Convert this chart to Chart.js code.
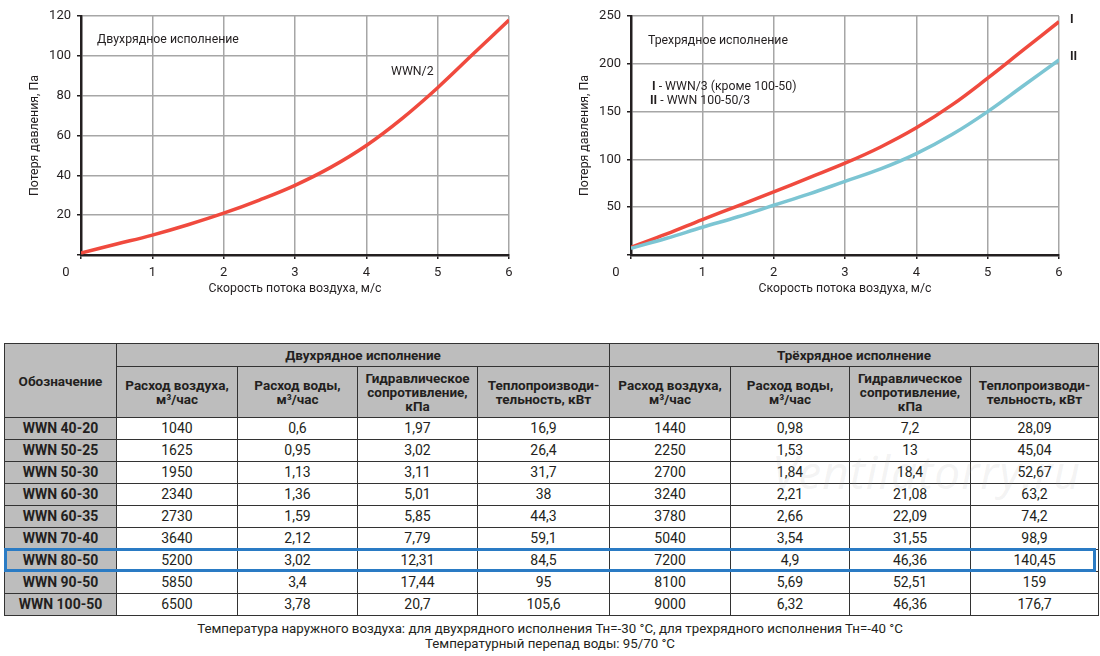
<!DOCTYPE html>
<html lang="ru">
<head>
<meta charset="utf-8">
<title>WWN — потеря давления</title>
<script src="https://cdn.jsdelivr.net/npm/chart.js@4.4.1/dist/chart.umd.min.js"></script>
<style>
    html, body { margin: 0; padding: 0; background: #fff; }
    body { width: 1100px; height: 656px; position: relative; overflow: hidden; font-family: Roboto, "Noto Sans", sans-serif; color: #231f20; }
    .chart-box { position: absolute; top: 0; width: 550px; height: 300px; }
    #specs { position: absolute; left: 4px; top: 343px; width: 1094px; border-collapse: collapse; table-layout: fixed; font-size: 14px; }
    #specs th, #specs td { border: 1.5px solid #333; text-align: center; padding: 0; }
    #specs th { background: #bdbdbd; font-weight: bold; font-size: 13.5px; line-height: 14px; }
    #specs td { height: 21px; line-height: 21px; }
    #specs td.model { background: #bdbdbd; font-weight: bold; }
    #specs tr.h1 th { height: 22px; }
    #specs tr.h2 th { height: 50px; }
    .highlight { position: absolute; left: 4px; top: 548px; width: 1092px; height: 24px; box-sizing: border-box; border: 3px solid #2a7bc4; }
    .watermark { position: absolute; left: 772px; top: 440px; font: italic 46px "Open Sans", sans-serif; color: rgba(170,170,170,0.15); letter-spacing: 1px; pointer-events: none; }
    .note { position: absolute; left: 0; width: 1100px; text-align: center; font-size: 13.3px; }
</style>
</head>
<body>

<div class="chart-box" style="left:0"><canvas id="chart2row"></canvas></div>
<div class="chart-box" style="left:550px"><canvas id="chart3row"></canvas></div>

<table id="specs"></table>
<div class="highlight"></div>
<div class="watermark">Ventilatorry.ru</div>
<div class="note" style="top:621px">Температура наружного воздуха: для двухрядного исполнения Тн=-30 °C, для трехрядного исполнения Тн=-40 °C</div>
<div class="note" style="top:636px">Температурный перепад воды: 95/70 °C</div>

<script>
// ---- chart data ----
const speed      = [0, 0.5, 1, 1.5, 2, 2.5, 3, 3.5, 4, 4.5, 5, 5.5, 6];
const lossWWN2   = [1, 5.5, 10, 15.2, 21, 27.6, 35, 44, 55, 68.5, 84, 101, 118];
const lossWWN3   = [8, 22, 37, 51.5, 66, 81, 96, 113, 133, 157, 185, 214.5, 244];
const lossWWN100 = [7, 17.5, 29, 40, 52, 64, 77, 90, 106, 126, 150, 177, 204];

// ---- table data ----
const models = ['WWN 40-20', 'WWN 50-25', 'WWN 50-30', 'WWN 60-30', 'WWN 60-35', 'WWN 70-40', 'WWN 80-50', 'WWN 90-50', 'WWN 100-50'];
const air2   = ['1040', '1625', '1950', '2340', '2730', '3640', '5200', '5850', '6500'];
const water2 = ['0,6', '0,95', '1,13', '1,36', '1,59', '2,12', '3,02', '3,4', '3,78'];
const hydr2  = ['1,97', '3,02', '3,11', '5,01', '5,85', '7,79', '12,31', '17,44', '20,7'];
const heat2  = ['16,9', '26,4', '31,7', '38', '44,3', '59,1', '84,5', '95', '105,6'];
const air3   = ['1440', '2250', '2700', '3240', '3780', '5040', '7200', '8100', '9000'];
const water3 = ['0,98', '1,53', '1,84', '2,21', '2,66', '3,54', '4,9', '5,69', '6,32'];
const hydr3  = ['7,2', '13', '18,4', '21,08', '22,09', '31,55', '46,36', '52,51', '46,36'];
const heat3  = ['28,09', '45,04', '52,67', '63,2', '74,2', '98,9', '140,45', '159', '176,7'];

const INK  = '#231f20';
const GRID = '#a6a6a6';
const FONT = 'Roboto';

// =============================================
// TABLE
// =============================================
const subHeads = ['Расход воздуха,<br>м³/час', 'Расход воды,<br>м³/час',
                  'Гидравлическое<br>сопротивление,<br>кПа', 'Теплопроизводи-<br>тельность, кВт'];
const colWidths = [112, 121, 120, 120, 132, 121, 119, 121, 128];

let html = '<colgroup>' + colWidths.map(w => `<col style="width:${w}px">`).join('') + '</colgroup>';
html += '<tr class="h1"><th rowspan="2">Обозначение</th>'
      + '<th colspan="4">Двухрядное исполнение</th><th colspan="4">Трёхрядное исполнение</th></tr>';
html += '<tr class="h2">' + subHeads.concat(subHeads).map(h => `<th>${h}</th>`).join('') + '</tr>';
models.forEach((m, i) => {
    const cells = [air2[i], water2[i], hydr2[i], heat2[i], air3[i], water3[i], hydr3[i], heat3[i]];
    html += `<tr><td class="model">${m}</td>` + cells.map(c => `<td>${c}</td>`).join('') + '</tr>';
});
document.getElementById('specs').innerHTML = html;

// =============================================
// CHARTS
// =============================================
const toPoints = ys => speed.map((x, i) => ({ x, y: ys[i] }));

// free text on the canvas: origin "0", captions, curve marks
const notesPlugin = {
    id: 'notes',
    afterDraw(chart, args, opts) {
        const ctx = chart.ctx;
        const area = chart.chartArea;
        ctx.save();
        ctx.fillStyle = INK;
        ctx.textBaseline = 'middle';
        ctx.font = `13px ${FONT}`;
        ctx.textAlign = 'center';
        ctx.fillText('0', area.left - 15, area.bottom + 18);
        ctx.textAlign = 'left';
        (opts.items || []).forEach(item => {
            let x = item.x;
            item.parts.forEach(p => {
                ctx.font = `${p.bold ? 'bold ' : ''}12.3px ${FONT}`;
                ctx.fillText(p.t, x, item.y);
                x += ctx.measureText(p.t).width;
            });
        });
        ctx.restore();
    }
};

function makeChart(canvasId, datasets, yMax, yStep, padRight, notes) {
    const tickFont  = { family: FONT, size: 13 };
    const titleFont = { family: FONT, size: 12.3 };
    return new Chart(document.getElementById(canvasId), {
        type: 'line',
        data: { datasets },
        plugins: [notesPlugin],
        options: {
            responsive: true,
            maintainAspectRatio: false,
            animation: false,
            layout: { padding: { left: 0, right: padRight, top: 16, bottom: 0 } },
            elements: { point: { radius: 0 }, line: { borderWidth: 3.5, tension: 0.4 } },
            scales: {
                x: {
                    type: 'linear', min: 0, max: 6,
                    ticks: { stepSize: 1, color: INK, font: tickFont, padding: 6, callback: v => v === 0 ? '' : v },
                    grid: { color: GRID, lineWidth: 1.5, tickLength: 4, tickColor: INK },
                    border: { color: INK, width: 2.5 },
                    title: { display: true, text: 'Скорость потока воздуха, м/с', color: INK, font: titleFont, padding: { top: 0, bottom: 4 } },
                    afterFit: s => { s.height = 45; }
                },
                y: {
                    min: 0, max: yMax,
                    ticks: { stepSize: yStep, color: INK, font: tickFont, padding: 6, callback: v => v === 0 ? '' : v },
                    grid: { color: GRID, lineWidth: 1.5, tickLength: 4, tickColor: INK },
                    border: { color: INK, width: 2.5 },
                    title: { display: true, text: 'Потеря давления, Па', color: INK, font: titleFont, padding: { top: 28, bottom: 0 } },
                    afterFit: s => { s.width = 81; }
                }
            },
            plugins: {
                legend: { display: false },
                tooltip: { enabled: false },
                notes: { items: notes }
            }
        }
    });
}

// ---- Two-row coil ----
makeChart('chart2row', [
    { label: 'WWN/2', data: toPoints(lossWWN2), borderColor: '#f04a3e' }
], 120, 20, 41, [
    { x: 97,  y: 40, parts: [{ t: 'Двухрядное исполнение' }] },
    { x: 391, y: 72, parts: [{ t: 'WWN/2' }] }
]);

// ---- Three-row coil ----
makeChart('chart3row', [
    { label: 'WWN 100-50/3', data: toPoints(lossWWN100), borderColor: '#7cc5d3' },
    { label: 'WWN/3', data: toPoints(lossWWN3), borderColor: '#f04a3e' }
], 250, 50, 41, [
    { x: 98,  y: 41,  parts: [{ t: 'Трехрядное исполнение' }] },
    { x: 102, y: 87,  parts: [{ t: 'I', bold: true }, { t: ' - WWN/3 (кроме 100-50)' }] },
    { x: 100, y: 101, parts: [{ t: 'II', bold: true }, { t: ' - WWN 100-50/3' }] },
    { x: 520, y: 20,  parts: [{ t: 'I', bold: true }] },
    { x: 520, y: 57,  parts: [{ t: 'II', bold: true }] }
]);
</script>
</body>
</html>
